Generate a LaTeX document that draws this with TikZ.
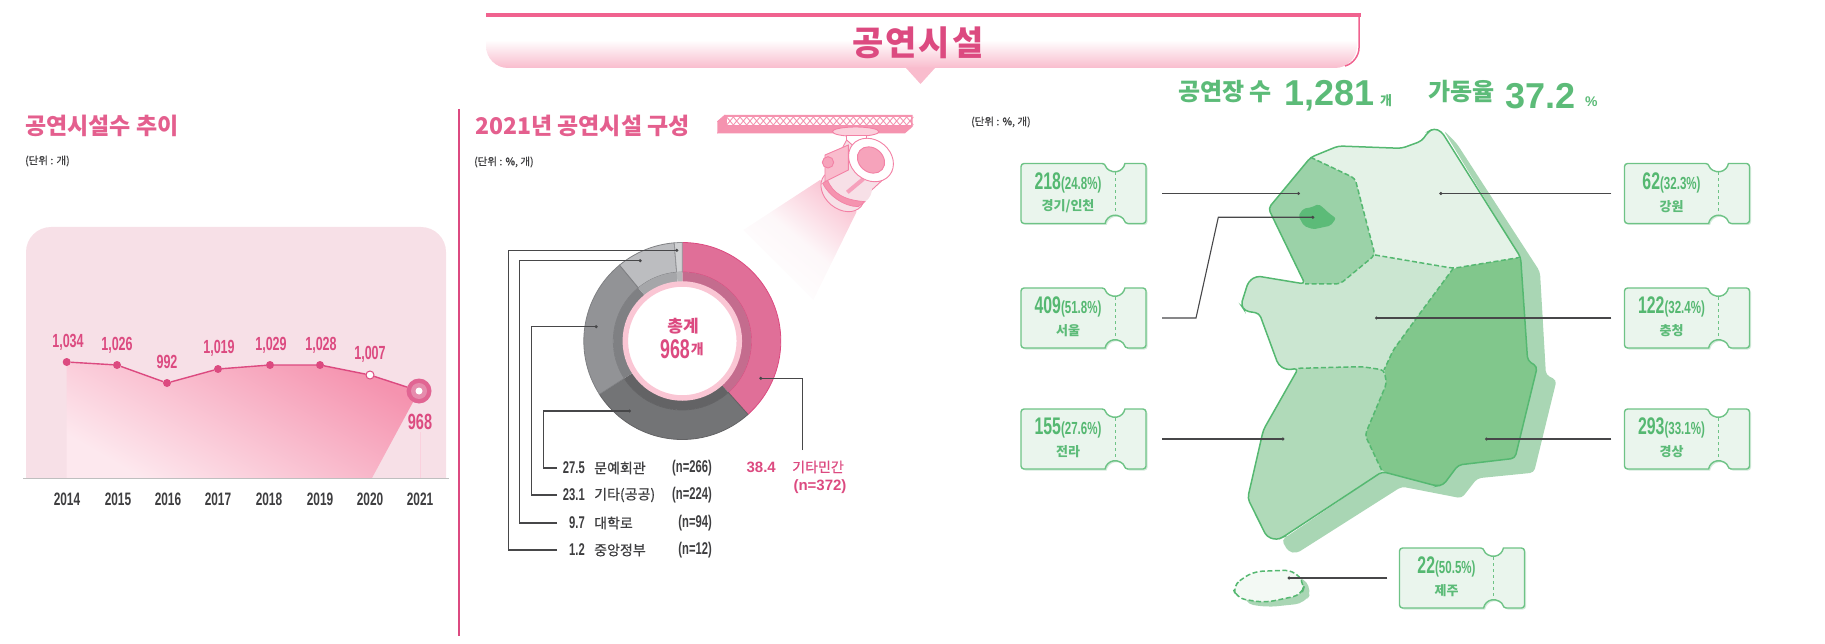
\documentclass[tikz,border=0pt]{standalone}
\usepackage{fontspec}
\usepackage{xcolor}
\usetikzlibrary{arrows.meta,calc,positioning}
\setmainfont{Noto Sans CJK KR}
\newfontfamily\numfont[FakeStretch=0.66]{Liberation Sans}
\newfontfamily\widefont{Liberation Sans}
\newfontfamily\bannerfont[LetterSpace=6]{Noto Sans CJK KR}
\newfontfamily\medfont[FakeBold=0.6]{Noto Sans CJK KR}
\newcommand{\fsize}[1]{\fontsize{#1}{#1}\selectfont}

\definecolor{rosebar}{HTML}{F0628F}
\definecolor{rosetext}{HTML}{DC4A80}
\definecolor{rosehead}{HTML}{E45F8E}
\definecolor{roselight}{HTML}{F9BCCD}
\definecolor{plotbg}{HTML}{F7E0E7}
\definecolor{plotlow}{HTML}{FDE8EE}
\definecolor{plothigh}{HTML}{F593AF}
\definecolor{inktext}{HTML}{3E3E40}
\definecolor{leadgray}{HTML}{474749}
\definecolor{sliceA}{HTML}{E06F98}
\definecolor{sliceAin}{HTML}{C46C8E}
\definecolor{sliceB}{HTML}{737476}
\definecolor{sliceBin}{HTML}{636365}
\definecolor{sliceC}{HTML}{929396}
\definecolor{sliceCin}{HTML}{7F8083}
\definecolor{sliceD}{HTML}{BCBDC0}
\definecolor{sliceDin}{HTML}{A5A6A9}
\definecolor{sliceE}{HTML}{D0D1D3}
\definecolor{sliceEin}{HTML}{B5B6B8}
\definecolor{mapline}{HTML}{55B871}
\definecolor{maptext}{HTML}{5CBB78}
\definecolor{mapshadow}{HTML}{A9D6B4}
\definecolor{mapgangwon}{HTML}{E4F2E7}
\definecolor{mapgyeonggi}{HTML}{9BD2A8}
\definecolor{mapseoul}{HTML}{5CBB78}
\definecolor{mapchung}{HTML}{CBE6D1}
\definecolor{mapjeolla}{HTML}{B0DAB9}
\definecolor{mapgyeong}{HTML}{81C78C}
\definecolor{mapjeju}{HTML}{F3F9F4}
\definecolor{ticketfill}{HTML}{EAF5ED}
\definecolor{ticketshadow}{HTML}{D3EADA}

\tikzset{
    every node/.style={inner sep=0pt},
    heading/.style={anchor=west, text=rosehead, font=\fsize{23}\bfseries},
    unitnote/.style={anchor=west, text=inktext, font=\medfont\fsize{10.5}},
    plotval/.style={text=rosetext, font=\numfont\fsize{19}\bfseries},
    yearlab/.style={text=inktext, font=\numfont\fsize{18}\bfseries},
    dotpt/.style={circle, fill=rosetext, minimum size=8pt},
    series/.style={draw=rosetext, line width=1.4pt},
    leader/.style={draw=leadgray, line width=1.1pt, -{Circle[length=3pt]}},
    legval/.style={anchor=east, text=inktext, font=\numfont\fsize{17}\bfseries},
    legtxt/.style={anchor=west, text=inktext, font=\medfont\fsize{14}},
    legn/.style={anchor=east, text=inktext, font=\numfont\fsize{17}\bfseries},
    statlab/.style={anchor=west, text=maptext, font=\fsize{24}\bfseries},
    statnum/.style={anchor=west, text=maptext, font=\widefont\fsize{36}\bfseries},
    statunit/.style={anchor=west, text=maptext, font=\fsize{13}\bfseries},
    ticketbox/.style={minimum width=125pt, minimum height=60pt},
    ticketline/.style={draw=mapline!85, line width=1.4pt, fill=ticketfill},
    ticketnum/.style={text=mapline, font=\numfont\fsize{24}\bfseries},
    ticketreg/.style={text=maptext, font=\fsize{13}\bfseries},
    inner border/.style={draw=mapline, line width=1.5pt, dash pattern=on 5pt off 2.5pt},
    lamp/.style={draw=rosebar!80, line width=0.9pt}
}
\newcommand{\ticketpath}{
    [rounded corners=3pt] (-62.5,-30) -- (21.7,-30) [sharp corners] arc[start angle=170,end angle=10,radius=10]
    [rounded corners=3pt] -- (62.5,-30) -- (62.5,30) -- (41.3,30) [sharp corners] arc[start angle=-10,end angle=-170,radius=10]
    [rounded corners=3pt] -- (-62.5,30) -- cycle
}

\begin{document}
\begin{tikzpicture}[x=1pt, y=-1pt]
    \useasboundingbox (0,0) rectangle (1825,644);

    \shade[top color=white, bottom color=roselight, rounded corners=22pt]
        (486,40) -- (486,68) -- (1357,68) -- (1357,40);
    \fill[roselight] (906,68) -- (935,68) -- (920.5,84) -- cycle;
    \draw[rosebar, line width=1.5pt, rounded corners=14pt] (1359,15) -- (1359,62) -- (1345,66);
    \draw[rosebar, line width=4pt] (486,15) -- (1361,15);
    \node[text=rosetext, font=\bannerfont\fsize{34}\bfseries] (banner) at (918,43) {공연시설};

    \draw[rosetext, line width=2.5pt] (459,109) -- (459,636);

    \node[heading] (trendTitle) at (25,126) {공연시설수 추이};
    \node[unitnote] (trendUnit) at (25,161) {(단위 : 개)};
    \fill[plotbg, rounded corners=25pt] (26,478) -- (26,227) -- (446,227) -- (446,478);
    \shade[top color=plothigh, bottom color=plotlow, shading angle=-30]
        (66.7,362) -- (117,365) -- (167,383) -- (218,369) -- (270,365) -- (320,365) -- (370,375) -- (419,391) -- (372,478) -- (66.7,478) -- cycle;
    \draw[rosebar!30, line width=1pt] (420,432) -- (420,478);
    \draw[black!25, line width=1.5pt] (23,478.5) -- (449,478.5);

    \node[dotpt] (p14) at (66.7,362) {};
    \node[dotpt] (p15) at (117,365) {};
    \node[dotpt] (p16) at (167,383) {};
    \node[dotpt] (p17) at (218,369) {};
    \node[dotpt] (p18) at (270,365) {};
    \node[dotpt] (p19) at (320,365) {};
    \node[circle, fill=white, draw=rosetext, line width=1pt, minimum size=8pt] (p20) at (370,375) {};
    \node[circle, fill=rosetext!85, minimum size=25pt] (p21) at (419,391) {};
    \node[circle, fill=sliceA!80, minimum size=16pt] (p21mid) at (419,391) {};
    \node[circle, fill=white, minimum size=7pt] (p21dot) at (419,391) {};
    \draw[series] (p14) -- (p15) -- (p16) -- (p17) -- (p18) -- (p19) -- (p20) -- (p21);

    \node[plotval] (v14) at (68,342) {1,034};
    \node[plotval] (v15) at (117,345) {1,026};
    \node[plotval] (v16) at (167,362) {992};
    \node[plotval] (v17) at (219,348) {1,019};
    \node[plotval] (v18) at (271,345) {1,029};
    \node[plotval] (v19) at (321,345) {1,028};
    \node[plotval] (v20) at (370,354) {1,007};
    \node[plotval, font=\numfont\fsize{22}\bfseries] (v21) at (420,422) {968};

    \foreach \yr/\xp in {2014/67, 2015/118, 2016/168, 2017/218, 2018/269, 2019/320, 2020/370, 2021/420}
        \node[yearlab] (y\yr) at (\xp,499) {\yr};

    \node[heading] (mixTitle) at (475,126) {2021년 공연시설 구성};
    \node[unitnote] (mixUnit) at (474,162) {(단위 : \%, 개)};

    \begin{scope}[shift={(710,105)}, x=0.3333pt, y=-0.3333pt]
        \shade[top color=roselight!85, bottom color=white, middle color=plotbg!25, shading angle=-40]
            (330,225) -- (440,320) -- (310,585) -- (100,375) -- cycle;
        \fill[plothigh] (22,85) -- (585,85) -- (608,65) -- (608,30) -- (45,30) -- (22,50) -- cycle;
        \fill[white] (50,36) rectangle (604,60);
        \foreach \xp in {50,70,...,590}
            \draw[plothigh, line width=0.9pt] (\xp,36) -- ++(20,24) (\xp,60) -- ++(20,-24);
        \draw[rosebar!70, line width=0.8pt] (22,50) -- (45,30) (45,30) -- (45,62) -- (22,85) (45,62) -- (608,62);
        \draw[lamp, fill=roselight!70] (437,80) ellipse (70 and 14);
        \draw[lamp, fill=white] (410,92) rectangle (470,125);
        \draw[lamp, fill=plotbg] (483,170) -- (410,105) -- (340,235) -- (420,315) -- (545,200) -- cycle;
        \draw[lamp, fill=plotbg, rotate around={-40:(398,258)}] (398,258) ellipse (72 and 54);
        \fill[plotbg, rotate around={-40:(420,235)}] (420,235) ellipse (72 and 56);
        \draw[lamp, fill=plothigh, line width=0.7pt] (352,225) .. controls (370,265) and (400,285) .. (465,290) -- (445,305) .. controls (400,305) and (355,270) .. (338,235) -- cycle;
        \draw[lamp, line width=4pt, draw=rosebar!60] (412,262) -- (460,222);
        \draw[lamp, fill=white, rotate around={-40:(483,165)}] (483,165) ellipse (72 and 60);
        \draw[lamp, fill=plothigh!85, rotate around={-40:(483,165)}] (483,165) ellipse (44 and 36);
        \draw[lamp, fill=roselight] (345,150) -- (415,120) -- (415,195) -- (345,230) -- cycle;
        \draw[lamp, fill=plothigh!85] (354,172) circle (17);
    \end{scope}

    \begin{scope}[shift={(682.3,341)}]
        \foreach \from/\upto/\col/\colin/\edge in {-90/48.2/sliceA/sliceAin/rosetext, 48.2/147.2/sliceB/sliceBin/sliceBin, 147.2/230.4/sliceC/sliceCin/sliceCin, 230.4/265.3/sliceD/sliceDin/sliceCin, 265.3/270/sliceE/sliceEin/sliceC} {
            \draw[draw=\edge, fill=\col, line width=0.8pt] (\from:98.5) arc[start angle=\from, end angle=\upto, radius=98.5] -- (\upto:69) arc[start angle=\upto, end angle=\from, radius=69] -- cycle;
            \fill[\colin] (\from:69) arc[start angle=\from, end angle=\upto, radius=69] -- (\upto:59) arc[start angle=\upto, end angle=\from, radius=59] -- cycle;
        }
    \end{scope}
    \node[circle, fill=white, draw=roselight!85, line width=5.5pt, minimum size=114pt] (donut) at (682.3,341) {};
    \node[text=rosetext, font=\fsize{17}\bfseries] (donutTop) at (683,326) {총계};
    \node[text=rosetext, font=\numfont\fsize{27}\bfseries] (donutVal) at (675,349) {968};
    \node[right=0.5pt of donutVal, text=rosetext, font=\fsize{14}\bfseries] (donutUnit) {개};

    \foreach \name/\ypos/\val/\word/\cnt in {cultural/468/27.5/문예회관/266, otherpub/495/23.1/기타(공공)/224, campus/523/9.7/대학로/94, central/550/1.2/중앙정부/12} {
        \node[legval] (\name Val) at (585,\ypos) {\val};
        \node[legtxt] (\name Txt) at (594,\ypos) {\word};
        \node[legn] (\name Cnt) at (712,\ypos) {(n=\cnt)};
        \coordinate (\name End) at (557,\ypos);
    }
    \coordinate (culturalDot) at (631,411);
    \coordinate (culturalBend) at (543.3,411);
    \coordinate (otherpubDot) at (597.7,326.7);
    \coordinate (otherpubBend) at (531.7,326.7);
    \coordinate (campusDot) at (641.7,260.7);
    \coordinate (campusBend) at (519.3,260.7);
    \coordinate (centralDot) at (678.3,250.3);
    \coordinate (centralBend) at (508.3,250.3);
    \coordinate (privateDot) at (759.3,378.3);
    \coordinate (privateBend) at (802.3,378.3);
    \coordinate (privateEnd) at (802.3,450);
    \draw[leader] (culturalEnd) -| (culturalBend) -- (culturalDot);
    \draw[leader] (otherpubEnd) -| (otherpubBend) -- (otherpubDot);
    \draw[leader] (campusEnd) -| (campusBend) -- (campusDot);
    \draw[leader] (centralEnd) -| (centralBend) -- (centralDot);
    \draw[leader] (privateEnd) -- (privateBend) -- (privateDot);

    \node[anchor=east, text=rosetext, font=\widefont\fsize{15}\bfseries] (privateVal) at (776,467) {38.4};
    \node[text=rosetext, font=\medfont\fsize{14}] (privateTxt) at (818,467) {기타민간};
    \node[text=rosetext, font=\widefont\fsize{15}\bfseries] (privateCnt) at (820,487) {(n=372)};

    \node[unitnote] (mapUnit) at (971,122) {(단위 : \%, 개)};
    \node[statlab] (venueLab) at (1178,92) {공연장 수};
    \node[statnum] (venueNum) at (1284,96) {1,281};
    \node[statunit] (venueUnit) at (1380,101) {개};
    \node[statlab] (rateLab) at (1428,92) {가동율};
    \node[statnum] (rateNum) at (1505,96) {37.2};
    \node[statunit, font=\widefont\fsize{14}\bfseries] (rateUnit) at (1585,102) {\%};

    \begin{scope}[shift={(1180,110)}, x=0.3333pt, y=-0.3333pt, rounded corners=4pt]
        \fill[mapshadow] (790,60) -- (830,100) -- (1080,485) -- (1098,795) -- (1130,810) -- (1062,1088) -- (892,1105) -- (845,1165) -- (665,1130) -- (350,1330) -- (325,1325) -- (305,1290) -- (600,1090) -- (1000,1040) -- (1040,750) -- (1020,440) -- cycle;
        \fill[mapchung] (392,142) -- (475,108) -- (665,115) -- (725,93) -- (745,65) -- (762,55) -- (785,65) -- (1022,442) -- (1043,752) -- (1072,770) -- (1005,1045) -- (835,1065) -- (790,1125) -- (770,1128) -- (607,1085) -- (308,1282) -- (290,1290) -- (260,1280) -- (203,1165) -- (250,960) -- (355,775) -- (320,780) -- (295,765) -- (238,610) -- (195,603) -- (183,585) -- (205,515) -- (230,498) -- (375,522) -- (265,295) -- cycle;
        \fill[mapgangwon] (392,142) -- (475,108) -- (665,115) -- (725,93) -- (745,65) -- (762,55) -- (785,65) -- (1022,442) -- (820,475) -- (585,435) -- (525,205) -- cycle;
        \fill[mapgyeonggi] (392,142) -- (525,205) -- (585,435) -- (480,522) -- (375,522) -- (265,295) -- cycle;
        \fill[mapjeolla] (355,775) -- (250,960) -- (203,1165) -- (260,1280) -- (290,1290) -- (308,1282) -- (607,1085) -- (555,975) -- (620,820) -- (612,780) -- (545,770) -- cycle;
        \fill[mapgyeong] (820,475) -- (1022,442) -- (1043,752) -- (1072,770) -- (1005,1045) -- (835,1065) -- (790,1125) -- (770,1128) -- (607,1085) -- (555,975) -- (620,820) -- (612,780) -- (640,720) -- (720,610) -- cycle;
        \fill[mapseoul, rounded corners=2pt] (355,318) -- (370,296) -- (395,292) -- (415,282) -- (432,295) -- (445,308) -- (468,325) -- (452,347) -- (400,358) -- (372,348) -- cycle;
        \draw[inner border] (392,142) -- (525,205) -- (585,435) -- (480,522) -- (375,522);
        \draw[inner border] (585,435) -- (820,475) -- (1022,442);
        \draw[inner border] (820,475) -- (720,610) -- (640,720) -- (612,780);
        \draw[inner border] (355,775) -- (545,770) -- (612,780) -- (620,820) -- (555,975) -- (607,1085);
        \draw[mapline, line width=1.5pt] (392,142) -- (475,108) -- (665,115) -- (725,93) -- (745,65) -- (762,55) -- (785,65) -- (1022,442) -- (1043,752) -- (1072,770) -- (1005,1045) -- (835,1065) -- (790,1125) -- (770,1128) -- (607,1085) -- (308,1282) -- (290,1290) -- (260,1280) -- (203,1165) -- (250,960) -- (355,775) -- (320,780) -- (295,765) -- (238,610) -- (195,603) -- (183,585) -- (205,515) -- (230,498) -- (375,522) -- (265,295) -- cycle;
        \fill[mapshadow, rounded corners=10pt] (200,1400) -- (360,1395) -- (398,1440) -- (375,1480) -- (260,1492) -- (190,1480) -- cycle;
        \draw[inner border, fill=mapjeju, rounded corners=9pt] (157,1428) -- (218,1385) -- (340,1380) -- (375,1422) -- (365,1455) -- (255,1478) -- (170,1465) -- cycle;
    \end{scope}

    \foreach \name/\xp/\yp/\big/\pct/\reg in {gyeonggi/1083.5/193.5/218/24.8/경기{/}인천, seoul/1083.5/318/409/51.8/서울, jeolla/1083.5/439/155/27.6/전라, gangwon/1687/193.5/62/32.3/강원, chungcheong/1687/318/122/32.4/충청, gyeongsang/1687/439/293/33.1/경상, jeju/1462/578/22/50.5/제주} {
        \begin{scope}[shift={(\xp,\yp)}]
            \fill[ticketshadow, shift={(1.5,1.5)}] \ticketpath;
            \draw[ticketline] \ticketpath;
            \draw[ticketline, line width=0.9pt, dashed, fill=none] (31.5,-21) -- (31.5,21);
        \end{scope}
        \node[ticketbox] (\name) at (\xp,\yp) {};
        \node[ticketnum] (\name Num) at ($(\name)+(-15.5,-11)$) {\big{\fsize{17.5}(\pct\%)}};
        \node[ticketreg] (\name Reg) at ($(\name)+(-15.5,13)$) {\reg};
    }

    \coordinate (gyeonggiDot) at (1300,193.5);
    \coordinate (seoulBendA) at (1196,318);
    \coordinate (seoulBendB) at (1218.3,217.3);
    \coordinate (seoulDot) at (1314.3,217.3);
    \coordinate (jeollaDot) at (1284.3,439);
    \coordinate (gangwonDot) at (1439.3,193.5);
    \coordinate (chungcheongDot) at (1375,318);
    \coordinate (gyeongsangDot) at (1485,439);
    \coordinate (jejuDot) at (1287.7,578);
    \draw[leader, shorten <=16pt] (gyeonggi.east) -- (gyeonggiDot);
    \draw[leader, shorten <=16pt] (seoul.east) -- (seoulBendA) -- (seoulBendB) -- (seoulDot);
    \draw[leader, shorten <=16pt] (jeolla.east) -- (jeollaDot);
    \draw[leader, shorten <=13pt] (gangwon.west) -- (gangwonDot);
    \draw[leader, shorten <=13pt] (chungcheong.west) -- (chungcheongDot);
    \draw[leader, shorten <=13pt] (gyeongsang.west) -- (gyeongsangDot);
    \draw[leader, shorten <=12pt] (jeju.west) -- (jejuDot);
\end{tikzpicture}
\end{document}
